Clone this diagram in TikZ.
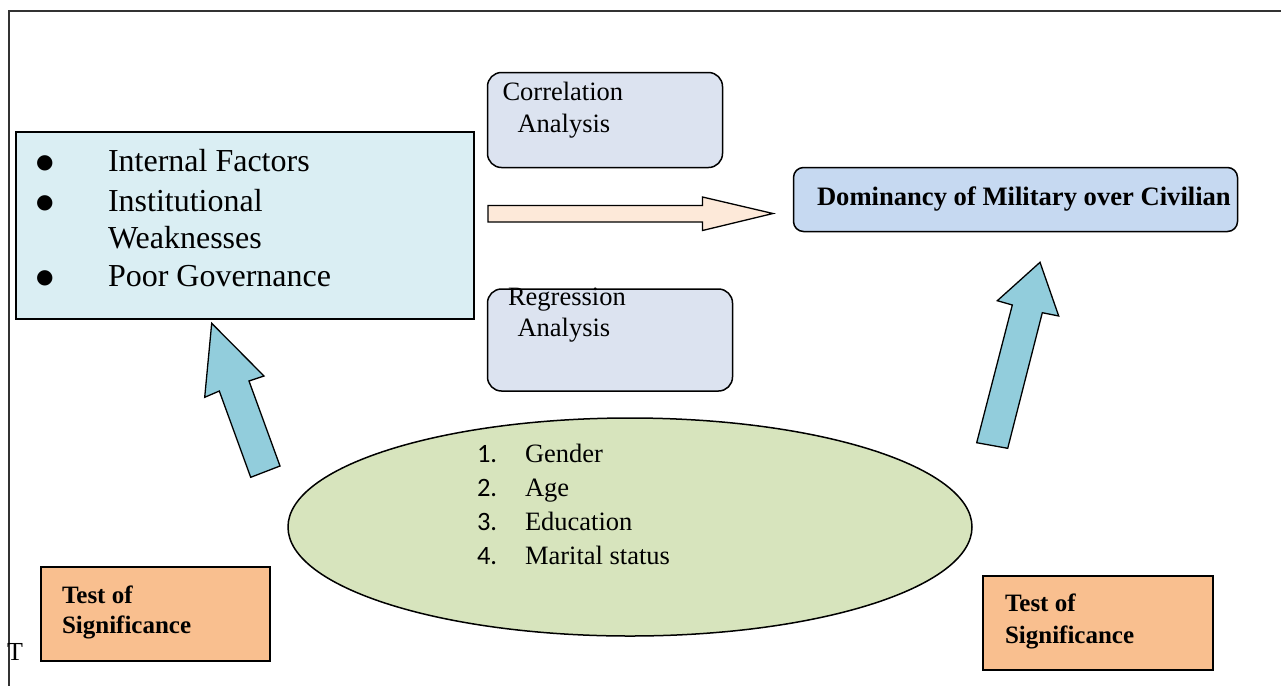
\documentclass[tikz,border=0pt]{standalone}
\usepackage{fontspec}
\setmainfont{Liberation Serif}
\newfontfamily\numfont{Carlito}
\newfontfamily\symfont{DejaVu Sans}
\usetikzlibrary{shapes.geometric}

\definecolor{factorfill}{HTML}{DAEEF3}
\definecolor{methodfill}{HTML}{DCE3F0}
\definecolor{outcomefill}{HTML}{C6D9F1}
\definecolor{peach}{HTML}{FDE9D9}
\definecolor{skyarrow}{HTML}{92CDDC}
\definecolor{olivefill}{HTML}{D7E4BD}
\definecolor{testfill}{HTML}{F9BF8F}
\definecolor{framegray}{HTML}{333333}

% round bullet followed by a hanging tab to the item text
\newcommand{\itembullet}{\makebox[72pt][l]{\raisebox{3pt}{\fontsize{20}{20}\selectfont\symfont ●}}}

\begin{document}
\begin{tikzpicture}[x=1pt,y=-1pt,
  every node/.style={inner sep=0pt, outer sep=0pt},
  box/.style={draw=black, anchor=north west},
  roundbox/.style={box, rounded corners=14pt, line width=1.5pt, fill=methodfill},
  testbox/.style={box, line width=2pt, fill=testfill},
  bigtxt/.style={anchor=base west, font=\fontsize{32}{38}\selectfont},
  txt/.style={anchor=base west, font=\fontsize{26.5}{30}\selectfont},
  boldtxt/.style={anchor=base west, font=\fontsize{25}{30}\selectfont\bfseries},
  numtxt/.style={anchor=base west, font=\fontsize{26.5}{30}\selectfont\numfont},
  blockarrow/.style={draw=black, line width=1.3pt, line join=miter}
]
\useasboundingbox (0,0) rectangle (1281,686);

% page frame (open on the right and at the bottom)
\draw[line width=2pt, framegray] (1281,11) -- (9,11) -- (9,686);
\node[anchor=base west, font=\fontsize{26}{30}\selectfont] (stray) at (7,660) {T};

% factors box
\node[box, line width=2pt, fill=factorfill, minimum width=458, minimum height=187] (factors) at (16,132) {};
\node[bigtxt] (f1) at (36,171) {\itembullet Internal Factors};
\node[bigtxt] (f2) at (36,211) {\itembullet Institutional};
\node[bigtxt] (f3) at (108,248) {Weaknesses};
\node[bigtxt] (f4) at (36,286) {\itembullet Poor Governance};

% analysis boxes
\node[roundbox, minimum width=235, minimum height=95] (corr) at (487.5,72.5) {};
\node[txt] (corr1) at (502.5,100) {Correlation};
\node[txt] (corr2) at (517.5,132) {Analysis};

\node[roundbox, minimum width=245, minimum height=102] (regr) at (487.5,289) {};
\node[txt] (regr1) at (508,305.5) {Regression};
\node[txt] (regr2) at (517.5,336.5) {Analysis};

% outcome box
\node[box, rounded corners=10pt, line width=1.5pt, fill=outcomefill, minimum width=444, minimum height=64] (outcome) at (793.5,167.5) {};
\node[anchor=base west, font=\fontsize{26.6}{30}\selectfont\bfseries] (outtxt) at (817,205) {Dominancy of Military over Civilian};

% demographic ellipse
\node[ellipse, draw=black, line width=1.5pt, fill=olivefill, minimum width=684, minimum height=218] (demo) at (630,527) {};
\node[numtxt] (n1) at (477,462) {1.};
\node[numtxt] (n2) at (477,496) {2.};
\node[numtxt] (n3) at (477,530) {3.};
\node[numtxt] (n4) at (477,564) {4.};
\node[txt] (d1) at (525,462) {Gender};
\node[txt] (d2) at (525,496) {Age};
\node[txt] (d3) at (525,530) {Education};
\node[txt] (d4) at (525,564) {Marital status};

% significance boxes
\node[testbox, minimum width=229, minimum height=94] (testL) at (41,567) {};
\node[boldtxt] (testL1) at (62,603) {Test of};
\node[boldtxt] (testL2) at (62,633.5) {Significance};

\node[testbox, minimum width=230, minimum height=94] (testR) at (983,575.5) {};
\node[boldtxt] (testR1) at (1005,611) {Test of};
\node[boldtxt] (testR2) at (1005,643) {Significance};

% block arrows
\draw[blockarrow, fill=peach] (488,205.5) -- (702.5,205.5) -- (702.5,197) -- (773,213.5)
  -- (702.5,230.5) -- (702.5,222) -- (488,222) -- cycle;

\draw[blockarrow, fill=skyarrow] (211.7,323.3) -- (264,376) -- (249,381) -- (280,466)
  -- (250.7,477.3) -- (219.3,391) -- (204.7,397.3) -- cycle;

\draw[blockarrow, fill=skyarrow] (1040,262.3) -- (1058.7,316) -- (1042.3,312.7) -- (1007.7,448.3)
  -- (976.7,442.7) -- (1012.3,305) -- (997.3,300.7) -- cycle;
\end{tikzpicture}
\end{document}
